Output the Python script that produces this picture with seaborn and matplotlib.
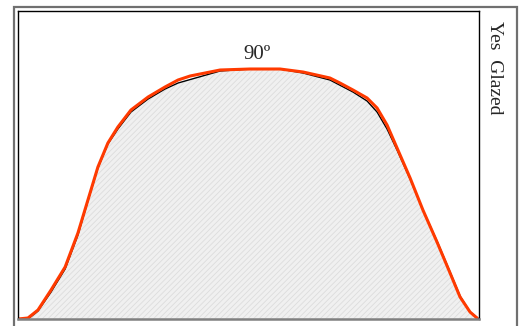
import numpy as np
import pandas as pd
import matplotlib
matplotlib.use("Agg")
import matplotlib.pyplot as plt
import seaborn as sns
from matplotlib.patches import Rectangle

# angle (degrees) and intensity
angle_obs = [0, 3.9, 7.8, 12.9, 18.4, 23.4, 27.3, 31.2, 35.1, 39.0, 44.1, 50.8,
             57.4, 62.5, 78.9, 90.6, 102.3, 111.3, 121.8, 130.8, 136.3, 140.2,
             144.1, 148.0, 153.1, 158.1, 163.6, 168.7, 172.6, 176.5, 180]
intens_obs = [0, 0, 8, 27, 50, 84, 118, 151, 175, 190, 207, 220,
              230, 236, 248, 250, 250, 246, 239, 227, 218, 207,
              190, 169, 140, 109, 78, 47, 23, 7, 0]

angle_fit = [0, 3.9, 7.8, 12.9, 18.4, 23.4, 27.3, 31.2, 35.1, 39.0, 44.1, 50.8,
             57.4, 62.5, 67.2, 78.9, 90.6, 102.3, 111.3, 121.8, 125.7, 130.8,
             136.3, 140.2, 144.1, 148.0, 153.1, 158.1, 163.6, 168.7, 172.6,
             176.5, 179.2]
intens_fit = [0, 1, 9, 29, 52, 86, 119, 152, 176, 192, 209, 222,
              232, 239, 243, 249, 250, 250, 247, 241, 236, 229,
              221, 211, 194, 171, 141, 109, 77, 46, 22,
              7, 1]

panel_label = "Yes  Glazed"
peak_label = "90º"

obs = pd.DataFrame({"angle": angle_obs, "intensity": intens_obs})
fit = pd.DataFrame({"angle": angle_fit, "intensity": intens_fit})

sns.set_style("white")
plt.rcParams["font.family"] = ["Liberation Serif", "DejaVu Serif"]
plt.rcParams["hatch.linewidth"] = 0.6

W, H = 523, 326
fig = plt.figure(figsize=(W / 100, H / 100), dpi=100)
ax = fig.add_axes([18 / W, (H - 319) / H, 461 / W, 308 / H])

# outer frame
fig.patches.append(Rectangle((14 / W, -0.05), 503 / W, (H - 7) / H + 0.05,
                             transform=fig.transFigure, fill=False,
                             edgecolor="#707070", linewidth=1.6))

ax.fill_between(obs["angle"], obs["intensity"], facecolor="#f0f0f0",
                hatch="//////", edgecolor="#dcdcdc", linewidth=0)
sns.lineplot(data=obs, x="angle", y="intensity", color="black", linewidth=1.0,
             ax=ax, sort=False)
sns.lineplot(data=fit, x="angle", y="intensity", color="#ff3a00", linewidth=2.2,
             ax=ax, sort=False)

ax.set_xlim(0, 180)
ax.set_ylim(0, 308)
ax.set_xticks([])
ax.set_yticks([])
ax.set_xlabel("")
ax.set_ylabel("")
for s in ["left", "top", "right"]:
    ax.spines[s].set_color("black")
    ax.spines[s].set_linewidth(1.0)
ax.spines["bottom"].set_color("#808080")
ax.spines["bottom"].set_linewidth(1.8)

ax.text(93.3, 255, peak_label, ha="center", va="bottom", fontsize=15)

fig.text(495 / W, 1 - 21 / H, panel_label, rotation=270, ha="center", va="top",
         fontsize=14)

fig.savefig("out.png", dpi=100)
